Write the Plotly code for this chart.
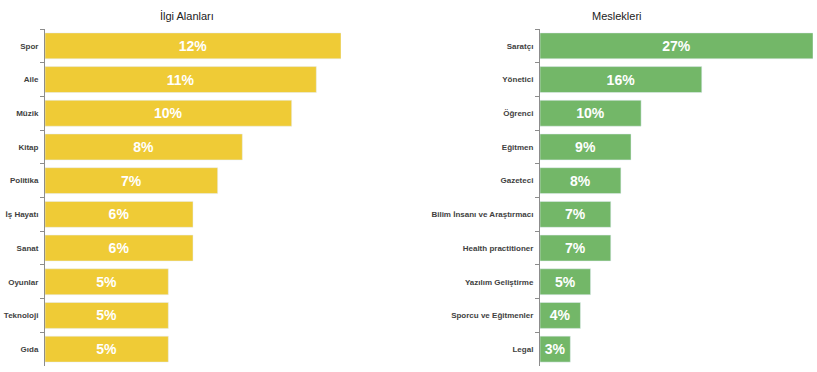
import plotly.graph_objects as go

left_title = "İlgi Alanları"
left_cats = ["Spor", "Aile", "Müzik", "Kitap", "Politika", "İş Hayatı", "Sanat", "Oyunlar", "Teknoloji", "Gıda"]
left_vals = [12, 11, 10, 8, 7, 6, 6, 5, 5, 5]

right_title = "Meslekleri"
right_cats = ["Saratçı", "Yönetici", "Öğrenci", "Eğitmen", "Gazeteci", "Bilim İnsanı ve Araştırmacı",
              "Health practitioner", "Yazılım Geliştirme", "Sporcu ve Eğitmenler", "Legal"]
right_vals = [27, 16, 10, 9, 8, 7, 7, 5, 4, 3]

W, H = 817, 372
YELLOW = "#EFCB36"
GREEN = "#73B768"
LABEL_FONT = "Liberation Sans, Arial, sans-serif"


def px_x(p):
    return p / W


def px_y(p):
    return 1 - p / H


fig = go.Figure()
fig.add_trace(go.Bar(
    y=left_cats, x=left_vals, orientation="h", marker_color=YELLOW,
    text=[f"{v}%" for v in left_vals], textposition="inside", insidetextanchor="middle",
    textfont=dict(color="white", size=14, family="Liberation Sans", weight="bold"),
    xaxis="x", yaxis="y", hoverinfo="skip", cliponaxis=False))
fig.add_trace(go.Bar(
    y=right_cats, x=right_vals, orientation="h", marker_color=GREEN,
    text=[f"{v}%" for v in right_vals], textposition="inside", insidetextanchor="middle",
    textfont=dict(color="white", size=14, family="Liberation Sans", weight="bold"),
    xaxis="x2", yaxis="y2", hoverinfo="skip", cliponaxis=False))

ydom = [px_y(366), px_y(29)]
yax = dict(type="category", autorange="reversed", showline=True, linecolor="#8c8c8c", linewidth=1,
           ticks="outside", tickson="boundaries", ticklen=4, tickcolor="#8c8c8c",
           tickfont=dict(family=LABEL_FONT, size=8, color="#3f3f3f", weight="bold"),
           ticklabelstandoff=4, automargin=False,
           showgrid=False, zeroline=False, domain=ydom, fixedrange=True)

fig.update_layout(
    width=W, height=H, margin=dict(l=0, r=0, t=0, b=0, autoexpand=False),
    paper_bgcolor="white", plot_bgcolor="white", showlegend=False, bargap=0.23,
    xaxis=dict(domain=[px_x(45), px_x(341)], range=[0, max(left_vals)], visible=False,
               fixedrange=True, automargin=False),
    xaxis2=dict(domain=[px_x(540), px_x(813)], range=[0, max(right_vals)], visible=False,
                fixedrange=True, automargin=False),
    yaxis=dict(yax, anchor="x"),
    yaxis2=dict(yax, anchor="x2"),
    uniformtext=dict(minsize=8, mode="show"),
    annotations=[
        dict(text=left_title, x=px_x(187), y=px_y(16), xref="paper", yref="paper", showarrow=False,
             font=dict(family="Liberation Sans", size=11, color="#222222"), xanchor="center", yanchor="middle"),
        dict(text=right_title, x=px_x(617), y=px_y(16), xref="paper", yref="paper", showarrow=False,
             font=dict(family="Liberation Sans", size=11, color="#222222"), xanchor="center", yanchor="middle"),
    ],
)

# remove the browser's default 8px body margin so the figure sits at the page origin
fig.write_html("out.html", config={"displayModeBar": False},
               post_script="document.body.style.margin='0';")
